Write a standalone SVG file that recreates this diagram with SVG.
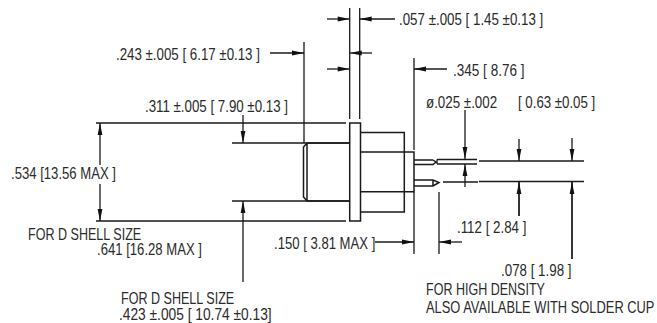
<svg xmlns="http://www.w3.org/2000/svg" width="657" height="323" viewBox="0 0 657 323">
<style>
text{font-family:"Liberation Sans",Arial,sans-serif;font-size:16px;fill:#2a2a2a}
.o{fill:none;stroke:#1a1a1a;stroke-width:1.5}
.d{fill:none;stroke:#1a1a1a;stroke-width:1.3}
.a{marker-end:url(#ah)}
</style>
<defs><marker id="ah" markerUnits="userSpaceOnUse" markerWidth="13" markerHeight="6" refX="13" refY="3" orient="auto"><path d="M1 .6 L13 3 L1 5.400Z" fill="#111"/></marker></defs>
<rect width="657" height="323" fill="#fff"/>
<g id="connector-body">
<path class="o" d="M349.700 123H360.500V221H349.700Z"/>
<path class="o" d="M349.700 143H307L303.500 147V197L307 201H349.700M307 143V201"/>
<path class="o" d="M360.500 132.500H404.300V212H360.500M360.500 152H414V191.700H360.500"/>
<path class="o" d="M414 160H433M414 164.500H433L436 162L433 160M414 180H433L439 182.500L433 186H414M433 180V186"/>
<path class="d" d="M437 159.500H477M437 164H477M437 159.500V164M443 182H478"/>
<path class="o" d="M479 161H584M479 181.500H584"/>
</g>
<g id="connectors">
<path class="d" d="M349.700 8V119M359.700 8V119M304 42V143M414 58V150M96 123H346M96 221H346M232 143H349M232 201H349M414 191.700V254M439 192V254M519 182V216M572 182V259"/>
<path class="d a" d="M327 19H349.700"/>
<path class="d a" d="M395 19H359.700"/>
<path class="d a" d="M270 53H304"/>
<path class="d a" d="M372 53H349.700"/>
<path class="d a" d="M327 69H349.700"/>
<path class="d a" d="M447 69H414"/>
<path class="d a" d="M100 165V123"/>
<path class="d a" d="M100 184V221"/>
<path class="d a" d="M243 115V143"/>
<path class="d a" d="M243 282V201"/>
<path class="d a" d="M465 110V159"/>
<path class="d a" d="M465 187V164"/>
<path class="d a" d="M519 139V161"/>
<path class="d a" d="M572 138V161"/>
<path class="d a" d="M519 216V182"/>
<path class="d a" d="M572 259V182"/>
<path class="d a" d="M375 242H414"/>
<path class="d a" d="M462 242H439"/>
</g>
<g id="labels">
<text transform="matrix(.833 0 0 1 399 25)">.057 ±.005 [ 1.45 ±0.13 ]</text>
<text transform="matrix(.831 0 0 1 116 60)">.243 ±.005 [ 6.17 ±0.13 ]</text>
<text transform="matrix(.847 0 0 1 453 76)">.345 [ 8.76 ]</text>
<text transform="matrix(.831 0 0 1 145 112)">.311 ±.005 [ 7.90 ±0.13 ]</text>
<text transform="matrix(.835 0 0 1 426 108)">ø.025 ±.002</text>
<text transform="matrix(.828 0 0 1 518 108)">[ 0.63 ±0.05 ]</text>
<text transform="matrix(.82 0 0 1 11 179)">.534 [13.56 MAX ]</text>
<text transform="matrix(.785 0 0 1 28 240)">FOR D SHELL SIZE</text>
<text transform="matrix(.82 0 0 1 97 255)">.641 [16.28 MAX ]</text>
<text transform="matrix(.785 0 0 1 121 304)">FOR D SHELL SIZE</text>
<text transform="matrix(.86 0 0 1 119 320)">.423 ±.005 [ 10.74 ±0.13]</text>
<text transform="matrix(.82 0 0 1 274 249)">.150 [ 3.81 MAX ]</text>
<text transform="matrix(.833 0 0 1 457 233)">.112 [ 2.84 ]</text>
<text transform="matrix(.835 0 0 1 501 276)">.078 [ 1.98 ]</text>
<text transform="matrix(.783 0 0 1 426 295)">FOR HIGH DENSITY</text>
<text transform="matrix(.805 0 0 1 426 313)">ALSO AVAILABLE WITH SOLDER CUP</text>
</g>
</svg>
